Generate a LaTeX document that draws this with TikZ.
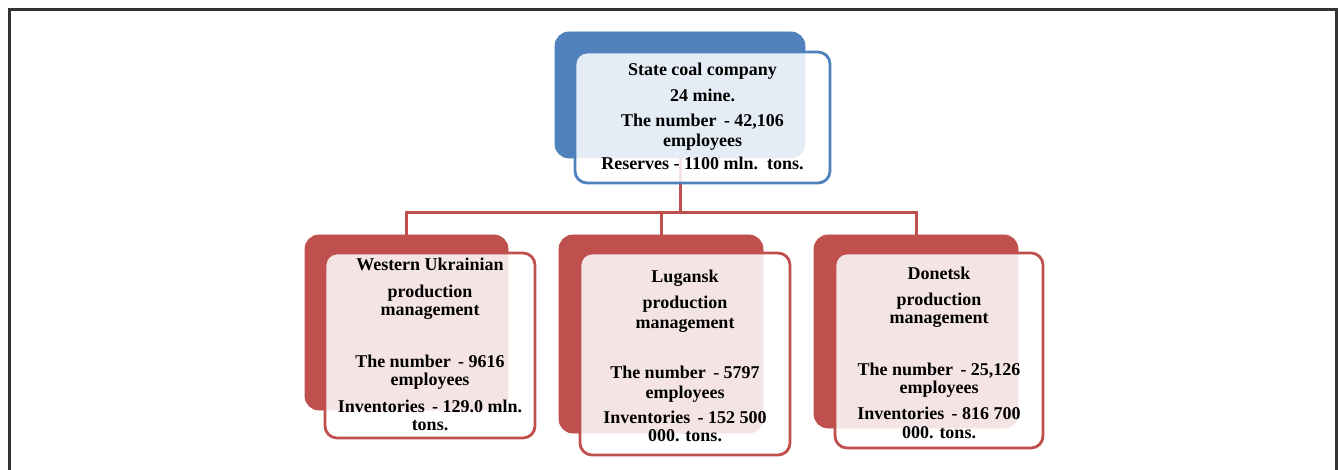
\documentclass[tikz,border=0pt]{standalone}
\usepackage{fontspec}
\setmainfont{Liberation Serif}
\definecolor{ucblue}{HTML}{4F81BD}
\definecolor{ucred}{HTML}{C0504D}
\definecolor{framegray}{HTML}{333333}
\tikzset{
  backbox/.style={rectangle, rounded corners=7pt, fill=#1, draw=#1, inner sep=0pt},
  frontbox/.style={rectangle, rounded corners=6pt, fill=white, fill opacity=0.85,
    draw=#1, draw opacity=1, line width=1.4pt, inner sep=0pt},
  link/.style={draw=ucred, line width=1.5pt},
  txt/.style={font=\bfseries\fontsize{9}{9}\selectfont, align=center, inner sep=0pt},
}
\begin{document}
\begin{tikzpicture}[x=0.5pt,y=-0.5pt]
  \useasboundingbox (0,0) rectangle (1338,470);
  % outer frame
  \draw[framegray, line width=1.5pt] (9,480) -- (9,10) -- (1336,10) -- (1336,480);

  % back boxes
  \node[backbox=ucblue, minimum width=125pt, minimum height=63pt] (scB) at (680,95) {};
  \node[backbox=ucred, minimum width=101.5pt, minimum height=87.5pt] (wuB) at (406.5,322.5) {};
  \node[backbox=ucred, minimum width=102pt, minimum height=99pt] (luB) at (661,334) {};
  \node[backbox=ucred, minimum width=102pt, minimum height=96.5pt] (doB) at (916,331.5) {};

  % connectors
  \coordinate (bus) at (680,213);
  \begin{scope}[link]
    \draw (scB.south) -- (bus);
    \draw (wuB.north) |- (bus) -| (doB.north);
    \draw (luB.north) -- (luB.north |- bus);
  \end{scope}

  % front boxes
  \node[frontbox=ucblue, minimum width=127.5pt, minimum height=65.5pt] (scF) at (702.5,117.5) {};
  \node[frontbox=ucred, minimum width=105pt, minimum height=92.5pt] (wuF) at (430,345.5) {};
  \node[frontbox=ucred, minimum width=105pt, minimum height=101pt] (luF) at (685,354) {};
  \node[frontbox=ucred, minimum width=104pt, minimum height=97.5pt] (doF) at (939,350.5) {};

  % texts
  \node[txt] (scT) at (scF |- 0,116) {State coal company\\[4pt]
    24 mine.\\[3.5pt]
    The number\, - 42,106\\[1pt]
    employees\\[2.5pt]
    Reserves - 1100 mln.\, tons.};
  \node[txt] (wuT) at (wuF |- 0,344) {Western Ukrainian\\[4.5pt]
    production\\
    management\\[17pt]
    The number\, - 9616\\
    employees\\[4.5pt]
    Inventories\, - 129.0 mln.\\
    tons.};
  \node[txt] (luT) at (luF |- 0,356) {Lugansk\\[4pt]
    production\\[1pt]
    management\\[16pt]
    The number\, - 5797\\[1pt]
    employees\\[3.5pt]
    Inventories\, - 152 500\\
    000. tons.};
  \node[txt] (doT) at (doF |- 0,353) {Donetsk\\[4pt]
    production\\
    management\\[17pt]
    The number\, - 25,126\\
    employees\\[4pt]
    Inventories\, - 816 700\\[0.5pt]
    000. tons.};
\end{tikzpicture}
\end{document}
